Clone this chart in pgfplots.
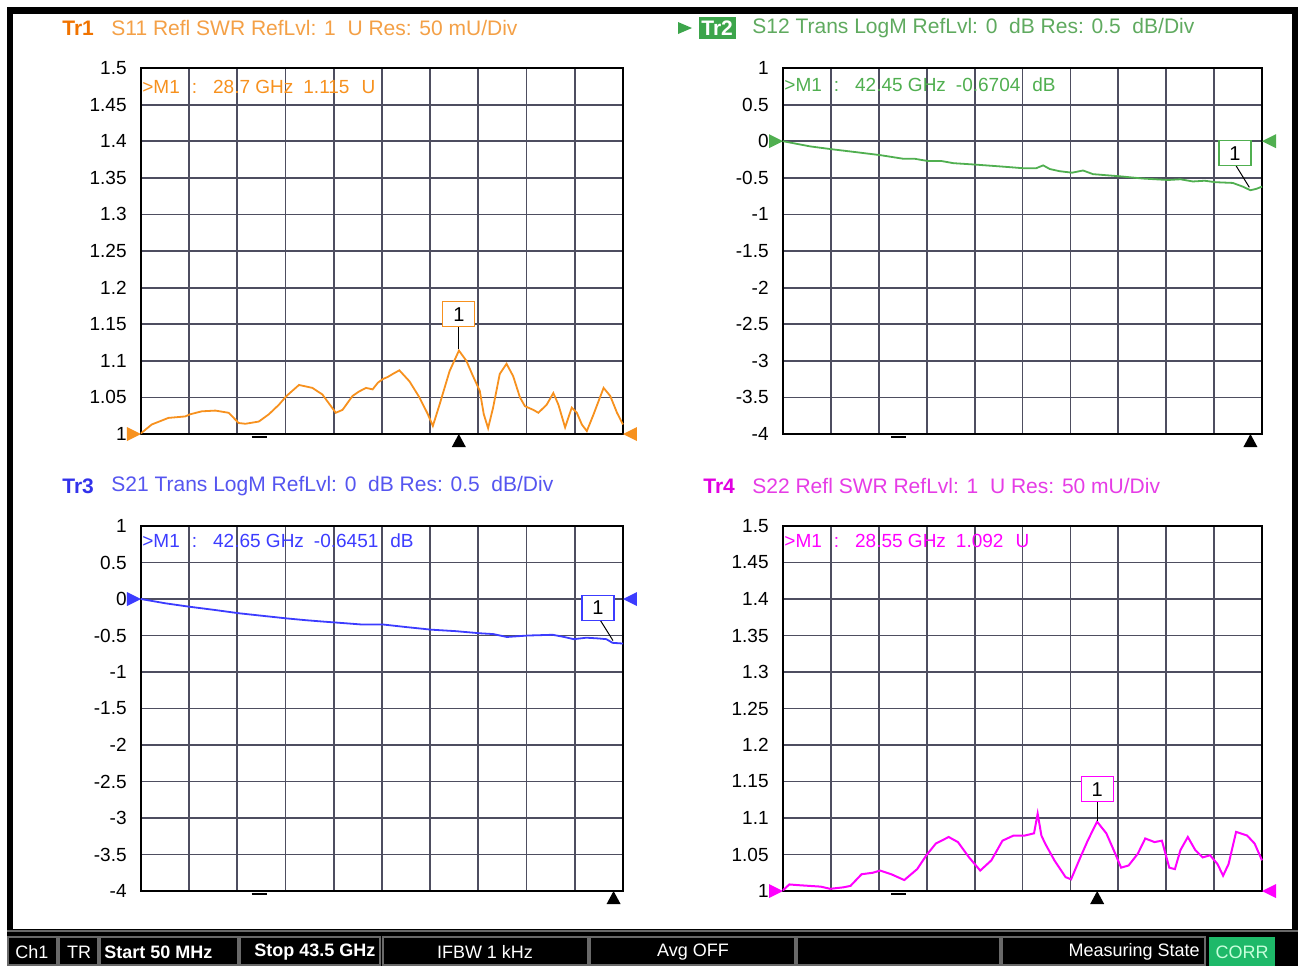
\documentclass[border=0pt]{standalone}
\usepackage{pgfplots}
\pgfplotsset{compat=1.18}
\usepackage{fontspec}
\setmainfont{Liberation Sans}
\definecolor{gridc}{RGB}{78,78,96}
\definecolor{orT}{RGB}{247,145,30}
\definecolor{orH}{RGB}{240,115,0}
\definecolor{orL}{RGB}{244,160,70}
\definecolor{grT}{RGB}{80,175,80}
\definecolor{grL}{RGB}{95,170,95}
\definecolor{grB}{RGB}{60,165,75}
\definecolor{blT}{RGB}{60,60,255}
\definecolor{blH}{RGB}{50,50,235}
\definecolor{blL}{RGB}{85,85,240}
\definecolor{mgT}{RGB}{255,0,255}
\definecolor{mgH}{RGB}{225,0,225}
\definecolor{mgL}{RGB}{230,60,230}
\definecolor{sbgray}{RGB}{105,105,105}
\definecolor{corrg}{RGB}{30,185,105}
\definecolor{corrt}{RGB}{200,255,220}
\pgfplotsset{vna/.style={scale only axis, anchor=south west,
  xmin=0.05, xmax=43.5,
  xtick={0.05,4.395,8.74,13.085,17.43,21.775,26.12,30.465,34.81,39.155,43.5},
  xticklabels={},
  grid=major, major grid style={draw=gridc, line width=0.9pt},
  axis line style={black, line width=1pt},
  major tick length=0pt, tick style={draw=none},
  yticklabel style={font=\fontsize{9.5}{11}\selectfont, anchor=east, inner sep=0pt, xshift=-7pt},
  clip=false},
  swr/.style={ymin=1, ymax=1.5, ytick={1,1.05,1.1,1.15,1.2,1.25,1.3,1.35,1.4,1.45,1.5},
  yticklabels={1,1.05,1.1,1.15,1.2,1.25,1.3,1.35,1.4,1.45,1.5}},
  logm/.style={ymin=-4, ymax=1, ytick={-4,-3.5,-3,-2.5,-2,-1.5,-1,-0.5,0,0.5,1},
  yticklabels={-4,-3.5,-3,-2.5,-2,-1.5,-1,-0.5,0,0.5,1}}}
\begin{document}
\begin{tikzpicture}
% ---------- background, frame and status bar ----------
\begin{scope}[x=0.5pt,y=-0.5pt]
\useasboundingbox (0,0) rectangle (1298,966);
\fill[white] (0,0) rectangle (1298,966);
\fill[black] (7,7) rectangle (1298,966);
\fill[white] (13,14) rectangle (1292,929);
\draw[sbgray, line width=0.8pt] (7,931) -- (1298,931);
\foreach \a/\b in {8/57,59/98,100/238,240/380,383/588,590/795,797/1000,1002/1205}
  \draw[sbgray, line width=1pt] (\a,937) rectangle (\b,965);
\fill[corrg] (1209,937) rectangle (1275,966);
\begin{scope}[every node/.style={font=\fontsize{9}{11}\selectfont, text=white, inner sep=0pt}]
\node at (32,952) {Ch1};
\node at (79,952) {TR};
\node[anchor=west] at (104,952) {\bfseries Start 50 MHz};
\node[anchor=west] at (254,952) {\bfseries Stop 43.5 GHz};
\node at (485,952) {IFBW 1 kHz};
\node at (693,952) {Avg OFF};
\node[anchor=east] at (1200,952) {Measuring State};
\node[text=corrt] at (1242,952) {CORR};
\end{scope}
\end{scope}

% ---------- Tr1: S11 SWR ----------
\begin{axis}[vna, swr, at={(70.5pt,-217pt)}, width=241pt, height=183pt]
\addplot[orT, line width=0.9pt] coordinates {
(0.05,1.001) (1.02,1.013) (2.52,1.022) (4.03,1.024) (4.49,1.027) (5.54,1.031) (6.75,1.032)
(7.95,1.029) (8.86,1.015) (9.46,1.014) (10.67,1.017) (11.58,1.027) (12.48,1.040) (13.17,1.052)
(14.29,1.067) (14.90,1.065) (15.50,1.063) (16.40,1.054) (17.61,1.029) (18.22,1.033) (19.12,1.052)
(19.70,1.058) (20.33,1.063) (20.93,1.061) (21.40,1.070) (21.84,1.075) (22.30,1.078) (22.74,1.082)
(23.34,1.087) (24.25,1.072) (25.15,1.050) (25.91,1.027)
(26.36,1.011) (26.96,1.040) (27.87,1.086) (28.71,1.114) (29.38,1.100) (29.98,1.079) (30.59,1.059)
(30.95,1.027) (31.34,1.008) (31.79,1.036) (32.39,1.082) (33.00,1.096) (33.60,1.079) (34.21,1.050)
(34.66,1.038) (35.41,1.033) (35.87,1.029) (36.62,1.040) (37.22,1.056) (37.68,1.040) (38.28,1.009)
(38.88,1.036) (39.34,1.029) (39.79,1.013) (40.24,1.004) (40.85,1.027) (41.75,1.063) (42.35,1.052)
(42.96,1.029) (43.50,1.013)};
\fill[orT] (rel axis cs:0,0) -- ++(-7pt,3.5pt) -- ++(0pt,-7pt) -- cycle;
\fill[orT] (rel axis cs:1,0) -- ++(7pt,3.5pt) -- ++(0pt,-7pt) -- cycle;
\fill[black] (axis cs:28.7,1) -- ++(-3.5pt,-6.5pt) -- ++(7pt,0pt) -- cycle;
\draw[black, line width=0.8pt] (rel axis cs:0.245,0) ++(-3.75pt,-1.5pt) -- ++(7.5pt,0pt);
\draw[black, line width=0.5pt] (axis cs:28.7,1.1465) -- (axis cs:28.7,1.116);
\node[draw=orT, line width=0.6pt, fill=white, minimum width=16pt, minimum height=12.5pt, inner sep=0pt, font=\fontsize{10}{12}\selectfont] at (axis cs:28.7,1.1635) {1};
\end{axis}

% ---------- Tr2: S12 LogM ----------
\begin{axis}[vna, logm, at={(391.5pt,-217pt)}, width=239.5pt, height=183pt]
\addplot[grT, line width=0.9pt] coordinates {
(0.05,0) (2.52,-0.071) (4.49,-0.11) (6.70,-0.15) (8.86,-0.19) (10.97,-0.24) (12.00,-0.24)
(13.17,-0.27) (14.40,-0.27) (15.50,-0.30) (17.55,-0.32) (19.80,-0.345) (21.93,-0.37) (23.00,-0.37)
(23.65,-0.33) (24.25,-0.38) (25.15,-0.41) (26.27,-0.43) (27.27,-0.40) (28.17,-0.45) (30.65,-0.48)
(32.70,-0.51) (34.96,-0.53) (36.10,-0.52) (37.23,-0.55) (38.30,-0.54) (39.28,-0.56) (40.85,-0.57)
(41.75,-0.62) (42.45,-0.67) (43.00,-0.65) (43.5,-0.62)};
\fill[grT] (axis cs:0.05,0) -- ++(-7pt,3.5pt) -- ++(0pt,-7pt) -- cycle;
\fill[grT] (axis cs:43.5,0) -- ++(7pt,3.5pt) -- ++(0pt,-7pt) -- cycle;
\fill[black] (axis cs:42.45,-4) -- ++(-3.5pt,-6.5pt) -- ++(7pt,0pt) -- cycle;
\draw[black, line width=0.8pt] (rel axis cs:0.242,0) ++(-3.75pt,-1.5pt) -- ++(7.5pt,0pt);
\draw[black, line width=0.5pt] (axis cs:41.15,-0.336) -- (axis cs:42.35,-0.63);
\node[draw=grT, line width=0.6pt, fill=white, minimum width=16pt, minimum height=12.5pt, inner sep=0pt, font=\fontsize{10}{12}\selectfont] at (axis cs:41.05,-0.165) {1};
\end{axis}

% ---------- Tr3: S21 LogM ----------
\begin{axis}[vna, logm, at={(70.5pt,-445.5pt)}, width=241pt, height=182.5pt]
\addplot[blT, line width=0.9pt] coordinates {
(0.05,0) (2.30,-0.06) (4.49,-0.107) (6.70,-0.15) (8.93,-0.196) (11.00,-0.23) (13.21,-0.266)
(14.90,-0.29) (16.54,-0.31) (18.30,-0.33) (20.03,-0.35) (21.93,-0.35) (24.00,-0.385) (26.22,-0.42)
(28.40,-0.44) (30.66,-0.47) (31.80,-0.48) (33.03,-0.52) (34.94,-0.50) (37.16,-0.49) (38.20,-0.52)
(39.06,-0.55) (40.20,-0.53) (41.28,-0.54) (42.00,-0.55) (42.55,-0.60) (43.5,-0.61)};
\fill[blT] (axis cs:0.05,0) -- ++(-7pt,3.5pt) -- ++(0pt,-7pt) -- cycle;
\fill[blT] (axis cs:43.5,0) -- ++(7pt,3.5pt) -- ++(0pt,-7pt) -- cycle;
\fill[black] (axis cs:42.65,-4) -- ++(-3.5pt,-6.5pt) -- ++(7pt,0pt) -- cycle;
\draw[black, line width=0.8pt] (rel axis cs:0.245,0) ++(-3.75pt,-1.5pt) -- ++(7.5pt,0pt);
\draw[black, line width=0.5pt] (axis cs:41.45,-0.29) -- (axis cs:42.6,-0.57);
\node[draw=blT, line width=0.6pt, fill=white, minimum width=16pt, minimum height=12.5pt, inner sep=0pt, font=\fontsize{10}{12}\selectfont] at (axis cs:41.25,-0.12) {1};
\end{axis}

% ---------- Tr4: S22 SWR ----------
\begin{axis}[vna, swr, at={(391.5pt,-445.5pt)}, width=239.5pt, height=182.5pt]
\addplot[mgT, line width=1pt] coordinates {
(0.05,1.001) (0.62,1.009) (1.46,1.008) (2.47,1.007) (3.48,1.006) (4.32,1.003) (5.50,1.005)
(6.17,1.007) (7.18,1.023) (8.19,1.025) (8.86,1.028) (9.87,1.023) (11.05,1.015) (12.22,1.030)
(13.06,1.049) (13.91,1.065) (15.08,1.074) (15.92,1.067) (16.93,1.046) (17.94,1.028) (18.95,1.042)
(19.96,1.069) (20.97,1.076) (21.98,1.076) (22.82,1.079) (23.15,1.106) (23.49,1.076) (23.83,1.065)
(24.67,1.042) (25.68,1.019) (26.18,1.016) (27.02,1.046) (27.69,1.069) (28.54,1.095) (29.38,1.079)
(30.05,1.056) (30.72,1.032) (31.40,1.035) (32.23,1.051) (32.91,1.072) (33.75,1.067) (34.42,1.069)
(35.09,1.032) (35.60,1.030) (36.10,1.056) (36.77,1.074) (37.45,1.056) (38.12,1.046) (38.79,1.049)
(39.46,1.037) (39.97,1.021) (40.47,1.037) (41.15,1.081) (42.15,1.076) (42.83,1.065) (43.5,1.042)};
\fill[mgT] (rel axis cs:0,0) -- ++(-7pt,3.5pt) -- ++(0pt,-7pt) -- cycle;
\fill[mgT] (rel axis cs:1,0) -- ++(7pt,3.5pt) -- ++(0pt,-7pt) -- cycle;
\fill[black] (axis cs:28.55,1) -- ++(-3.5pt,-6.5pt) -- ++(7pt,0pt) -- cycle;
\draw[black, line width=0.8pt] (rel axis cs:0.242,0) ++(-3.75pt,-1.5pt) -- ++(7.5pt,0pt);
\draw[black, line width=0.5pt] (axis cs:28.55,1.1225) -- (axis cs:28.55,1.096);
\node[draw=mgT, line width=0.6pt, fill=white, minimum width=16pt, minimum height=12.5pt, inner sep=0pt, font=\fontsize{10}{12}\selectfont] at (axis cs:28.55,1.1395) {1};
\end{axis}

% ---------- titles and marker readouts ----------
\begin{scope}[x=0.5pt,y=-0.5pt, every node/.style={inner sep=0pt, anchor=west, font=\fontsize{10.5}{12}\selectfont}]
\node[text=orH] at (62,28) {\bfseries Tr1};
\node[text=orL] at (111,28) {S11 Refl SWR RefLvl: 1\ \ U Res: 50 mU/Div};
\fill[grB] (678,22) -- (692,28) -- (678,34) -- cycle;
\fill[grB] (699,17) rectangle (736,39);
\node[text=white] at (701,28) {\bfseries Tr2};
\node[text=grL] at (752,28) {S12 Trans LogM RefLvl: 0\ \ dB Res: 0.5\ \ dB/Div};
\node[text=blH] at (62,486) {\bfseries Tr3};
\node[text=blL] at (111,486) {S21 Trans LogM RefLvl: 0\ \ dB Res: 0.5\ \ dB/Div};
\node[text=mgH] at (703,486) {\bfseries Tr4};
\node[text=mgL] at (752,486) {S22 Refl SWR RefLvl: 1\ \ U Res: 50 mU/Div};
\begin{scope}[every node/.style={inner sep=0pt, anchor=west, font=\fontsize{9.5}{11}\selectfont}]
\node[text=orT] at (142,87) {>M1\hspace{6pt}:\hspace{8pt}28.7 GHz\hspace{5pt}1.115\hspace{6pt}U};
\node[text=grT] at (784,85) {>M1\hspace{6pt}:\hspace{8pt}42.45 GHz\hspace{5pt}-0.6704\hspace{6pt}dB};
\node[text=blT] at (142,541) {>M1\hspace{6pt}:\hspace{8pt}42.65 GHz\hspace{5pt}-0.6451\hspace{6pt}dB};
\node[text=mgT] at (784,541) {>M1\hspace{6pt}:\hspace{8pt}28.55 GHz\hspace{5pt}1.092\hspace{6pt}U};
\end{scope}
\end{scope}
\end{tikzpicture}
\end{document}
